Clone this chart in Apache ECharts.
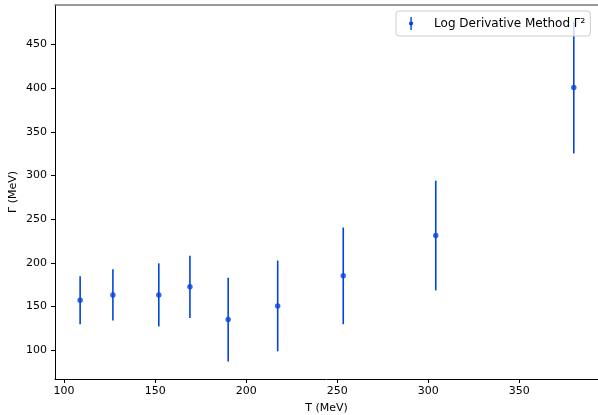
<!DOCTYPE html>
<html>
<head>
<meta charset="utf-8">
<script src="https://cdn.jsdelivr.net/npm/echarts@6/dist/echarts.min.js"></script>
<style>
  html, body { margin: 0; padding: 0; background: #fff; }
  #chart { width: 598px; height: 415px; }
</style>
</head>
<body>
<div id="chart"></div>
<script>
// temperatures (MeV)
const tValues = [108.8, 126.8, 152.0, 169.1, 190.1, 217.3, 253.3, 304.1, 379.9]
// width Gamma (MeV)
const gammaValues = [157.3, 163.4, 163.4, 172.6, 135.2, 150.8, 185.2, 231.3, 400.5]
// symmetric error bars
const gammaErrors = [27.5, 29.4, 36.1, 35.5, 47.9, 51.9, 55.3, 62.8, 75.3]
const xTicks = [100, 150, 200, 250, 300, 350]
const yTicks = [100, 150, 200, 250, 300, 350, 400, 450]
const seriesName = 'Log Derivative Method Γ²'

const blue = '#0343df'
const font = 'DejaVu Sans'

const points = tValues.map((t, i) => [t, gammaValues[i]])
const bars = tValues.map((t, i) => [t, gammaValues[i] - gammaErrors[i], gammaValues[i] + gammaErrors[i]])

const chart = echarts.init(document.getElementById('chart'))

chart.setOption({
  animation: false,
  backgroundColor: '#fff',
  grid: { left: 55, right: 0, top: 5, bottom: 36, outerBoundsMode: 'none', containLabel: false },
  legend: {
    data: [seriesName],
    left: 396,
    top: 11,
    padding: [6, 5, 6, 13],
    itemWidth: 6,
    itemHeight: 13,
    icon: 'path://M2.3,0 h1.4 v4.6 a2,2 0 0,1 0,3.8 v4.6 h-1.4 v-4.6 a2,2 0 0,1 0,-3.8 z',
    backgroundColor: 'rgba(255,255,255,0.8)',
    borderColor: '#cccccc',
    borderWidth: 1,
    borderRadius: 3,
    textStyle: { fontFamily: font, fontSize: 12, color: '#000', padding: [0, 0, 0, 15] }
  },
  xAxis: [{
    type: 'value',
    min: 95,
    max: 393.2,
    name: 'T (MeV)',
    nameLocation: 'middle',
    nameGap: 24,
    nameMoveOverlap: false,
    nameTextStyle: { fontFamily: font, fontSize: 11, color: '#000' },
    splitLine: { show: false },
    axisLine: { lineStyle: { color: '#000', width: 1 } },
    axisTick: { customValues: xTicks, length: 4, lineStyle: { color: '#000' } },
    axisLabel: { customValues: xTicks, margin: 7, fontFamily: font, fontSize: 11, color: '#000' }
  }, {
    type: 'value',
    position: 'top',
    min: 95,
    max: 393.2,
    splitLine: { show: false },
    axisLine: { lineStyle: { color: '#777', width: 1.5 } },
    axisTick: { show: false },
    axisLabel: { show: false }
  }],
  yAxis: {
    type: 'value',
    min: 67.2,
    max: 495,
    name: 'Γ (MeV)',
    nameLocation: 'middle',
    nameGap: 36,
    nameMoveOverlap: false,
    nameTextStyle: { fontFamily: font, fontSize: 11, color: '#000' },
    splitLine: { show: false },
    axisLine: { show: true, lineStyle: { color: '#000', width: 1 } },
    axisTick: { show: true, customValues: yTicks, length: 4, lineStyle: { color: '#000' } },
    axisLabel: { customValues: yTicks, margin: 8, fontFamily: font, fontSize: 11, color: '#000' }
  },
  series: [
    {
      name: seriesName,
      type: 'custom',
      data: bars,
      encode: { x: 0, y: [1, 2] },
      renderItem: function (params, api) {
        const lo = api.coord([api.value(0), api.value(1)])
        const hi = api.coord([api.value(0), api.value(2)])
        return {
          type: 'line',
          shape: { x1: lo[0], y1: lo[1], x2: hi[0], y2: hi[1] },
          style: { stroke: blue, lineWidth: 1.6 }
        }
      },
      itemStyle: { color: blue },
      z: 2
    },
    {
      name: seriesName,
      type: 'scatter',
      data: points,
      symbol: 'circle',
      symbolSize: 5.5,
      itemStyle: { color: blue },
      z: 3
    }
  ]
})
</script>
</body>
</html>
